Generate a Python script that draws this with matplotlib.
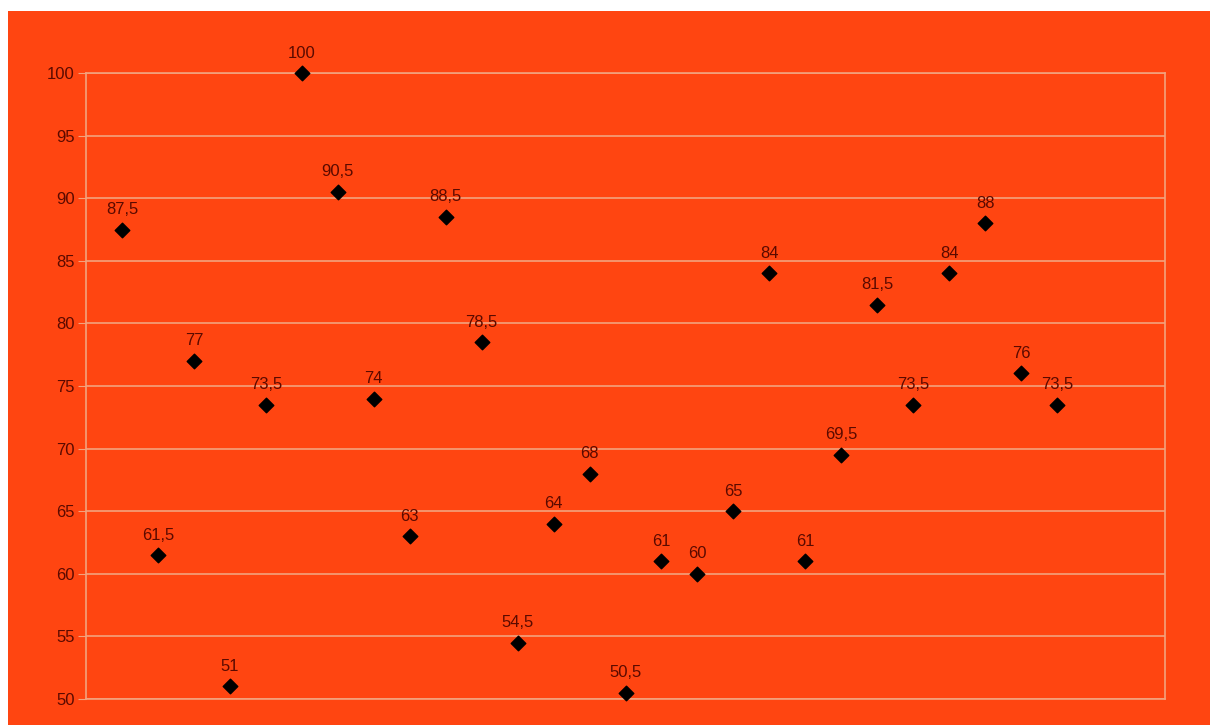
import numpy as np
import matplotlib.pyplot as plt
from matplotlib.patches import Rectangle

# Datos
puntos = list(range(1, 28))
valores = [87.5, 61.5, 77, 51, 73.5, 100, 90.5, 74, 63, 88.5, 78.5, 54.5, 64, 68,
           50.5, 61, 60, 65, 84, 61, 69.5, 81.5, 73.5, 84, 88, 76, 73.5]
yticks = list(range(50, 101, 5))

fondo = '#FF4511'
linea = '#F2A27E'
texto = '#5A0A00'

plt.rcParams['font.family'] = ['Liberation Sans', 'DejaVu Sans']

fig = plt.figure(figsize=(12.1, 7.25), dpi=100, facecolor='white')
fig.patches.append(Rectangle((8 / 1210, 0), 1.0, (725 - 11) / 725,
                             transform=fig.transFigure, facecolor=fondo,
                             edgecolor='none', linewidth=0, zorder=-10))

ax = fig.add_axes([86 / 1210, (725 - 699) / 725, (1165 - 86) / 1210, (699 - 73) / 725])
ax.set_facecolor(fondo)

ax.scatter(puntos, valores, marker='D', s=55, color='black', zorder=3, clip_on=False)

for x, v in zip(puntos, valores):
    etiqueta = ('{:g}'.format(v)).replace('.', ',')
    ax.annotate(etiqueta, (x, v), xytext=(0, 9), textcoords='offset points',
                ha='center', va='bottom', fontsize=12, color=texto)

ax.set_xlim(0, 30)
ax.set_ylim(50, 100)
ax.set_yticks(yticks)
ax.set_xticks([])
ax.yaxis.grid(True, color=linea, linewidth=1.2)
ax.set_axisbelow(True)
ax.tick_params(axis='y', length=6, color=linea, labelsize=12, labelcolor=texto, pad=2)

for s in ax.spines.values():
    s.set_color(linea)
    s.set_linewidth(1.2)

fig.savefig('out.png', dpi=100, facecolor=fig.get_facecolor())
